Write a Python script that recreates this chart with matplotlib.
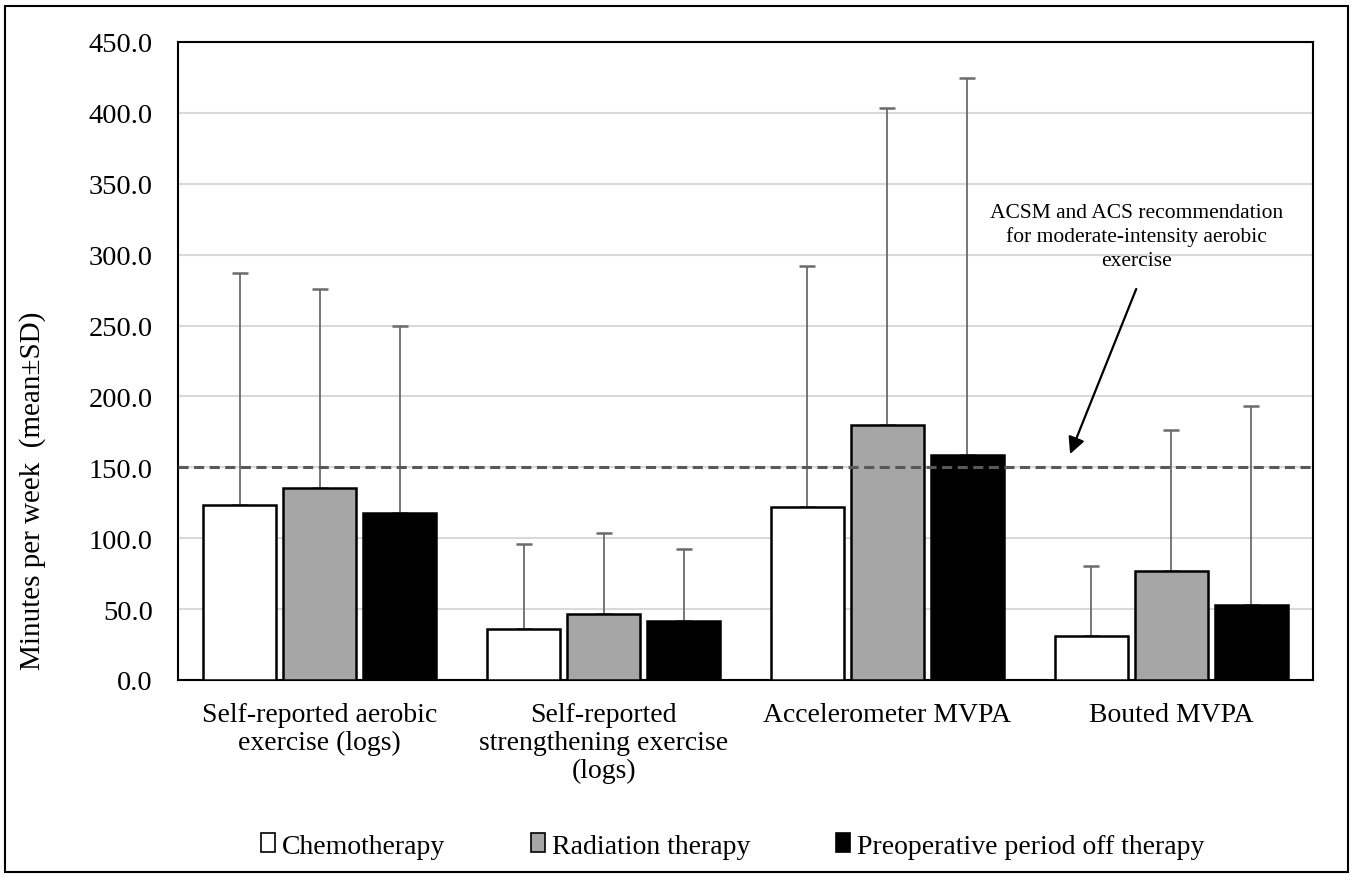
import matplotlib
matplotlib.use('Agg')
import matplotlib.pyplot as plt
from matplotlib.patches import Patch, Rectangle
import numpy as np

categories = ['Self-reported aerobic\nexercise (logs)',
              'Self-reported\nstrengthening exercise\n(logs)',
              'Accelerometer MVPA',
              'Bouted MVPA']
series_names = ['Chemotherapy', 'Radiation therapy', 'Preoperative period off therapy']
chemo_mean = [123.5, 36.3, 122.0, 30.8]
chemo_sd = [163.5, 59.4, 170.0, 49.6]
radiation_mean = [135.5, 46.2, 179.6, 76.8]
radiation_sd = [140.0, 57.8, 223.9, 99.6]
preop_mean = [117.5, 41.5, 158.5, 52.6]
preop_sd = [132.5, 50.9, 266.0, 140.4]
recommendation = 150.0
yticks = [0, 50, 100, 150, 200, 250, 300, 350, 400, 450]
annotation_text = 'ACSM and ACS recommendation\nfor moderate-intensity aerobic\nexercise'

plt.rcParams['font.family'] = ['Liberation Serif', 'DejaVu Serif']

fig = plt.figure(figsize=(13.57, 8.78), dpi=100)
ax = fig.add_axes([178/1357, 1-681/878, (1313-178)/1357, (681-43)/878])

x = np.arange(len(categories))
width = 0.257
offset = 0.282
colors = ['white', '#a6a6a6', 'black']
means = [chemo_mean, radiation_mean, preop_mean]
sds = [chemo_sd, radiation_sd, preop_sd]

for i, (m, s, c) in enumerate(zip(means, sds, colors)):
    pos = x + (i - 1) * offset
    ax.bar(pos, m, width, color=c, edgecolor='black', linewidth=1.8, zorder=3)
    ax.errorbar(pos, m, yerr=[np.zeros(len(m)), s], fmt='none', ecolor='#6b6b6b',
                elinewidth=1.3, capsize=5.5, capthick=1.8, zorder=2)

ax.axhline(recommendation, color='#595959', linewidth=2.2, dashes=(3.3, 1.8), zorder=4)

ax.set_xlim(-0.5, 3.5)
ax.set_ylim(0, 450)
ax.set_yticks(yticks)
ax.set_yticklabels([f'{v:.1f}' for v in yticks], fontsize=20.5)
ax.set_xticks(x)
ax.set_xticklabels(categories, fontsize=20, linespacing=1.15)
ax.tick_params(axis='both', length=0)
ax.tick_params(axis='y', pad=18)
ax.tick_params(axis='x', pad=16)
ax.yaxis.grid(True, color='#d9d9d9', linewidth=1.5, zorder=0)
ax.set_axisbelow(True)
for sp in ax.spines.values():
    sp.set_linewidth(1.5)
    sp.set_color('black')

fig.text(33/1357, 1-491/878, 'Minutes per week  (mean\u00b1SD)', rotation=90,
         ha='center', va='center', fontsize=21)

ax.text(2.877, 313, annotation_text, ha='center', va='center', fontsize=15.5,
        linespacing=1.3, zorder=5)
ax.annotate('', xy=(2.644, 159.4), xytext=(2.877, 275.8),
            arrowprops=dict(arrowstyle='-|>', color='black', lw=1.6,
                            mutation_scale=25, shrinkA=0, shrinkB=0), zorder=5)

handles = [Patch(facecolor=c, edgecolor='black', linewidth=1.2) for c in colors]
fig.legend(handles, series_names, loc='center', bbox_to_anchor=(0.54, 1-847/878),
           ncol=3, frameon=False, fontsize=20, handlelength=0.5, handleheight=0.65,
           handletextpad=0.25, columnspacing=3.1)

fig.patches.append(Rectangle((5/1357, 5/878), 1343/1357, 866/878, transform=fig.transFigure,
                             fill=False, edgecolor='black', linewidth=1.5))

fig.savefig('out.png', dpi=100)
